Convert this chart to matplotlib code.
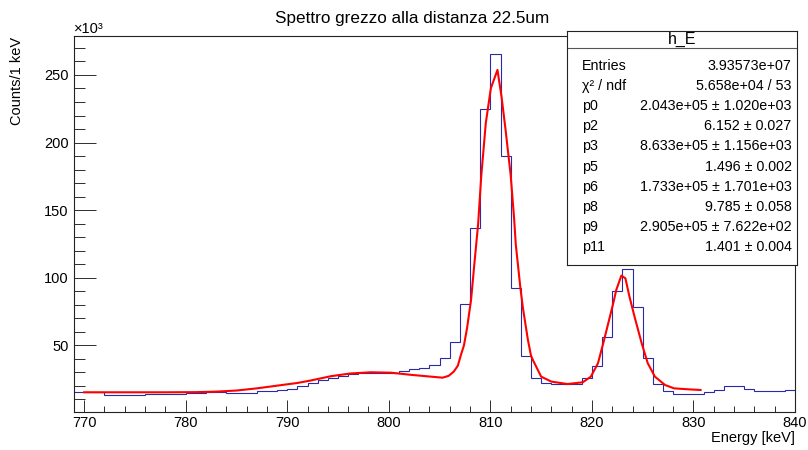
import matplotlib
matplotlib.use("Agg")
import matplotlib.pyplot as plt
import numpy as np

plt.rcParams['font.family'] = ['Liberation Sans', 'DejaVu Sans']

# Histogram: 1 keV bins starting at 769 keV, counts in units of 10^3
bin_start = 769
counts_k = [
    15.3, 15.3, 15.3, 13.5, 13.5, 13.5, 13.5, 14.3, 14.3, 14.3,   # 769-778
    14.3, 14.8, 14.8, 15.3, 15.3, 14.8, 14.8, 14.8, 16.0, 16.0,   # 779-788
    17.0, 17.5, 20.0, 22.5, 24.4, 26.1, 27.4, 28.6, 29.3, 29.8,   # 789-798
    29.8, 29.8, 31.3, 32.5, 33.0, 35.6, 40.4, 52.3, 80.4, 136.6,  # 799-808
    224.6, 265.3, 190.1, 92.5, 42.2, 25.6, 22.2, 21.4, 21.4, 21.4,  # 809-818
    25.6, 34.8, 56.0, 90.5, 106.5, 78.6, 40.9, 21.4, 16.0, 14.1,  # 819-828
    14.1, 14.1, 15.3, 17.0, 20.0, 20.0, 17.5, 16.3, 16.3, 16.5,   # 829-838
    17.0,                                                         # 839
]

# Fitted curve (energy in keV, counts in units of 10^3)
fit_energy = [
    770, 774, 778, 781, 783, 785, 787, 789, 791, 792.3, 794.3, 796.2,
    798.2, 800.2, 802.2, 804.1, 805.3, 805.9, 806.4, 806.8, 807.1, 807.4,
    807.7, 808.1, 808.4, 808.8, 809.1, 809.55, 810.05, 810.7, 811.1, 811.5,
    812.0, 812.35, 812.5, 812.95, 813.2, 813.7, 814.0, 814.2, 815.0, 816.0,
    817.6, 819.1, 819.9, 820.6, 821.2, 822.1, 822.4, 822.9, 823.3, 823.7,
    824.2, 824.9, 825.5, 826.2, 827.2, 828.1, 829.5, 830.7,
]
fit_counts_k = [
    15.3, 15.3, 15.3, 15.4, 15.8, 16.6, 18.2, 20.2, 22.2, 24.0, 27.2, 29.2,
    30.1, 29.8, 28.2, 26.9, 26.1, 27.5, 30.6, 35.0, 42.9, 50.0,
    62.5, 83.6, 108.2, 140.0, 174.8, 214.3, 240.2, 253.7, 234.0, 209.3,
    176.0, 142.8, 125.0, 93.0, 78.0, 54.0, 42.5, 39.0, 26.9, 23.2,
    21.4, 22.7, 26.9, 36.8, 54.0, 81.1, 91.0, 101.6, 99.6, 86.0,
    71.2, 51.6, 36.8, 26.9, 20.7, 18.2, 17.5, 17.0,
]

title = "Spettro grezzo alla distanza 22.5um"
x_label = "Energy [keV]"
y_label = "Counts/1 keV"

stats_name = "h_E"
stats_rows = [
    ("Entries", "3.93573e+07"),
    ("χ² / ndf", "5.658e+04 / 53"),
    ("p0", "2.043e+05 ± 1.020e+03"),
    ("p2", "6.152 ± 0.027"),
    ("p3", "8.633e+05 ± 1.156e+03"),
    ("p5", "1.496 ± 0.002"),
    ("p6", "1.733e+05 ± 1.701e+03"),
    ("p8", "9.785 ± 0.058"),
    ("p9", "2.905e+05 ± 7.622e+02"),
    ("p11", "1.401 ± 0.004"),
]

W, H = 808, 450
fig = plt.figure(figsize=(W / 100, H / 100), dpi=100)


def fx(px):
    return px / W


def fy(py):
    return 1 - py / H


# main frame
left, right, top, bottom = 74, 795, 36, 412.3
ax = fig.add_axes([fx(left), fy(bottom), fx(right) - fx(left), fy(top) - fy(bottom)])

edges = np.arange(bin_start, bin_start + len(counts_k) + 1)
ax.stairs(counts_k, edges, baseline=None, color='#2a2aa8', lw=0.8, zorder=2)
ax.plot(fit_energy, fit_counts_k, color='#ff0000', lw=1.5, zorder=3)

ax.set_xlim(769, 840)
ax.set_ylim(0.5, 278.8)

ax.set_xticks(np.arange(770, 841, 10))
ax.set_xticks(np.arange(770, 841, 2), minor=True)
ax.set_yticks(np.arange(50, 251, 50))
ax.set_yticks(np.arange(10, 279, 10), minor=True)

tick_col = '#333333'
ax.tick_params(axis='both', which='both', direction='in', top=False, right=False,
               color=tick_col, width=0.72, labelsize=10.5, labelcolor='black')
ax.tick_params(axis='y', which='major', length=15.8, pad=4)
ax.tick_params(axis='y', which='minor', length=7.9)
ax.tick_params(axis='x', which='major', length=8.6, pad=3)
ax.tick_params(axis='x', which='minor', length=4.3)

for sp in ax.spines.values():
    sp.set_linewidth(0.8)
    sp.set_color('#222222')

# titles and axis labels
fig.text(fx(412), fy(18), title, ha='center', va='center', fontsize=12.3)
fig.text(fx(795), fy(438), x_label, ha='right', va='center', fontsize=10.5)
fig.text(fx(17), fy(37), y_label, ha='center', va='top', rotation=90, fontsize=10.5)
fig.text(fx(74), fy(29), "×10³", ha='left', va='center', fontsize=10.5)

# statistics box
bx0, bx1, by0, by1 = 567.3, 797.3, 31, 265
sb = fig.add_axes([fx(bx0), fy(by1), fx(bx1) - fx(bx0), fy(by0) - fy(by1)], zorder=5)
sb.set_xlim(bx0, bx1)
sb.set_ylim(by1, by0)
sb.set_xticks([])
sb.set_yticks([])
sb.set_facecolor('white')
for sp in sb.spines.values():
    sp.set_linewidth(0.8)
    sp.set_color('#222222')
sb.axhline(47.7, color='#555555', lw=0.8)
sb.text((bx0 + bx1) / 2, 39.3, stats_name, ha='center', va='center', fontsize=11.5)
row_y0, row_dy = 65.7, 20.18
for i, (name, val) in enumerate(stats_rows):
    y = row_y0 + i * row_dy
    sb.text(581.7, y, name, ha='left', va='center', fontsize=10.3)
    sb.text(791.7, y, val, ha='right', va='center', fontsize=10.3)

fig.savefig("out.png", dpi=100)
